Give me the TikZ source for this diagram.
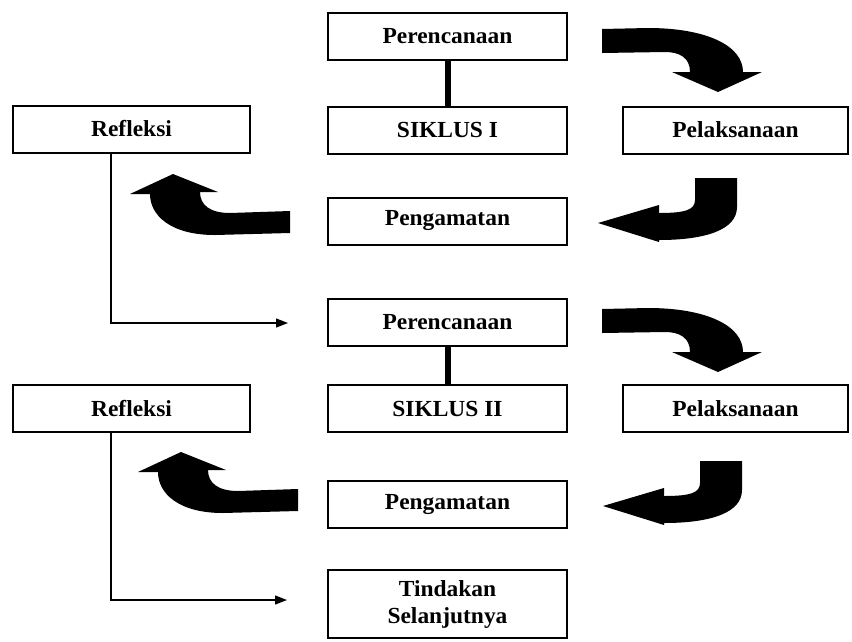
\documentclass[tikz,border=0pt]{standalone}
\usepackage{fontspec}
\setmainfont{Liberation Serif}
\usepackage{graphicx}
\usetikzlibrary{arrows.meta}
\newcommand{\wlbl}[1]{\scalebox{1.02}[1]{#1}}
\tikzset{
  box/.style={draw, line width=2pt, minimum width=239pt, minimum height=47pt,
    inner sep=0pt, font=\fontsize{23}{27}\selectfont\bfseries, align=center},
  sidebox/.style={box, minimum width=237pt},
  rightbox/.style={box, minimum width=225pt},
  link/.style={line width=6pt},
  feedline/.style={line width=1.3pt, -{Triangle[length=12pt,width=9pt]}},
  bentA/.pic={\fill (602,29) -- (648,28) .. controls (705,28) and (743,45) .. (743,72)
      -- (762,72) -- (718,92) -- (672,72) -- (690,72)
      .. controls (690,58) and (680,52) .. (665,52) -- (602,53) -- cycle;},
  bentB/.pic={\fill (695,178) -- (737,178) -- (737,207)
      .. controls (737,230) and (705,240) .. (659,240) -- (659,242) -- (598,223)
      -- (659,205) -- (659,213) .. controls (685,213) and (695,210) .. (695,200) -- cycle;},
  bentC/.pic={\fill (290,211) -- (290,233) -- (215,235)
      .. controls (170,235) and (150,215) .. (150,194) -- (130,194) -- (173,174)
      -- (218,192) -- (200,192) .. controls (200,205) and (210,213) .. (230,213) -- cycle;}
}
\begin{document}
\begin{tikzpicture}[x=1pt,y=-1pt]
\useasboundingbox (0,0) rectangle (852,641);
% cycle I
\node[box] (p1) at (447.5,36.5) {\wlbl{Perencanaan}};
\node[box] (s1) at (447.5,130) {\wlbl{SIKLUS I}};
\node[sidebox] (r1) at (131.5,129) {\wlbl{Refleksi}};
\node[rightbox] (l1) at (735.5,130) {\wlbl{Pelaksanaan}};
\node[box] (g1) at (447.5,221) {\wlbl{Pengamatan}};
% cycle II
\node[box] (p2) at (447.5,322) {\wlbl{Perencanaan}};
\node[box] (s2) at (447.5,408.5) {\wlbl{SIKLUS II}};
\node[sidebox] (r2) at (131.5,408.5) {\wlbl{Refleksi}};
\node[rightbox] (l2) at (735.5,408.5) {\wlbl{Pelaksanaan}};
\node[box] (g2) at (447.5,504) {\wlbl{Pengamatan}};
\node[box, minimum height=68pt] (t) at (447.5,604) {\wlbl{Tindakan}\\\wlbl{Selanjutnya}};
% links
\draw[link] (p1.south) -- (s1.north);
\draw[link] (p2.south) -- (s2.north);
\coordinate (e1) at (288,323);
\coordinate (e2) at (287,600);
\draw[feedline] (r1.south west) ++(99,0) |- (e1);
\draw[feedline] (r2.south west) ++(99,0) |- (e2);
% bent arrows
\pic at (0,0) {bentA};
\pic at (0,280) {bentA};
\pic at (0,0) {bentB};
\pic at (5,283) {bentB};
\pic at (0,0) {bentC};
\pic at (8,278) {bentC};
\end{tikzpicture}
\end{document}
